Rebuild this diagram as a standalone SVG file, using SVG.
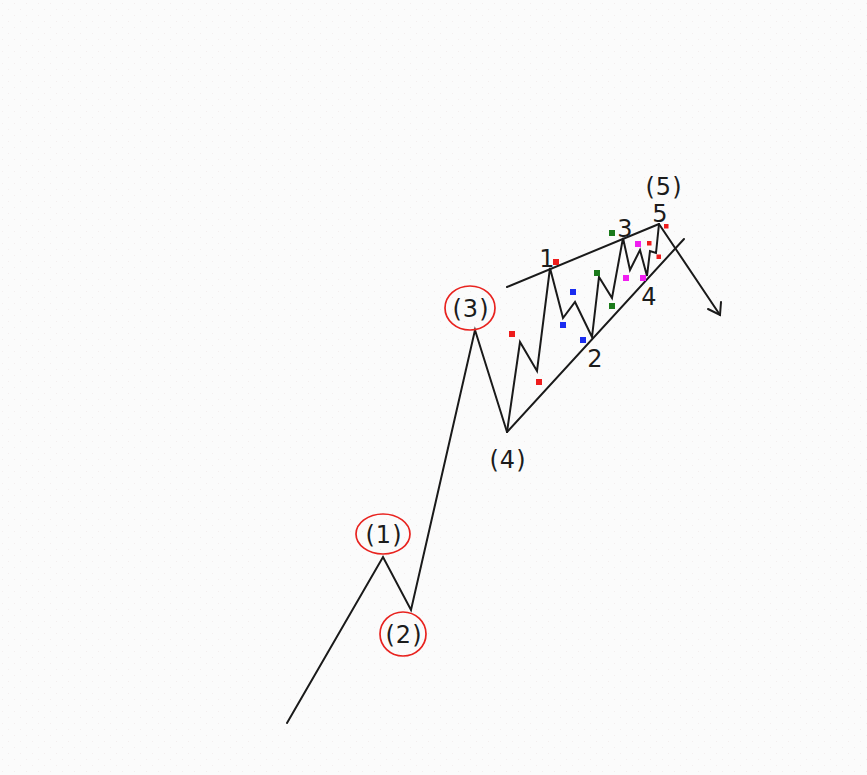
<svg xmlns="http://www.w3.org/2000/svg" width="867" height="775" viewBox="0 0 867 775">
  <style>
    .wave { fill: none; stroke: #1a1a1a; stroke-width: 2; stroke-linejoin: miter; stroke-linecap: round; }
    .ring { fill: none; stroke: #e8231f; stroke-width: 1.7; }
    .lbl { font-family: "DejaVu Sans", "Liberation Sans", sans-serif; font-size: 24px; fill: #1c1c1c; text-anchor: middle; }
    .par { letter-spacing: 1px; }
    .r { fill: #ee1c1c; }
    .b { fill: #1a2cf0; }
    .g { fill: #1b7a1b; }
    .m { fill: #f01ef0; }
  </style>
  <defs>
    <pattern id="bgp" width="12" height="12" patternUnits="userSpaceOnUse">
      <rect width="12" height="12" fill="#fbfbfb"/>
      <rect x="2" y="3" width="1" height="1" fill="#f3eeee"/>
      <rect x="8" y="9" width="1" height="1" fill="#f3eeee"/>
    </pattern>
  </defs>
  <rect width="867" height="775" fill="url(#bgp)"/>

  <g id="connectors">
    <polyline class="wave" points="287,723 383,557 411,610 475,330 507,432"/>
    <polyline class="wave" points="507,432 520,342 537,371 550,268 563,318 575,302 592,337 599,277 612,298 623,238 630,270 640,250 647,276 650,251 656,253 659,224"/>
    <line class="wave" x1="507" y1="287" x2="659" y2="224"/>
    <line class="wave" x1="507" y1="432" x2="684" y2="239"/>
    <line class="wave" x1="659" y1="224" x2="720" y2="315"/>
    <polyline class="wave" points="708,309 720,315 721,302"/>
  </g>

  <g id="markers">
    <rect class="r" x="509" y="331" width="6" height="6"/>
    <rect class="r" x="536" y="379" width="6" height="6"/>
    <rect class="r" x="553" y="259" width="6" height="6"/>
    <rect class="b" x="570" y="289" width="6" height="6"/>
    <rect class="b" x="560" y="322" width="6" height="6"/>
    <rect class="b" x="580" y="337" width="6" height="6"/>
    <rect class="g" x="594" y="270" width="6" height="6"/>
    <rect class="g" x="609" y="303" width="6" height="6"/>
    <rect class="g" x="609" y="230" width="6" height="6"/>
    <rect class="m" x="635" y="241" width="6" height="6"/>
    <rect class="m" x="623" y="275" width="6" height="6"/>
    <rect class="m" x="640" y="275" width="6" height="6"/>
    <rect class="r" x="647" y="241" width="4.5" height="4.5"/>
    <rect class="r" x="656.5" y="254.5" width="4.5" height="4.5"/>
    <rect class="r" x="664" y="224" width="4.5" height="4.5"/>
  </g>

  <g id="n1"><ellipse class="ring" cx="383" cy="534" rx="27" ry="20"/><text class="lbl par" x="384" y="543">(1)</text></g>
  <g id="n2"><ellipse class="ring" cx="403" cy="634" rx="23" ry="22"/><text class="lbl par" x="404" y="643">(2)</text></g>
  <g id="n3"><ellipse class="ring" cx="470" cy="308" rx="25" ry="22"/><text class="lbl par" x="471" y="317">(3)</text></g>
  <g id="n4"><text class="lbl par" x="508" y="468">(4)</text></g>
  <g id="n5"><text class="lbl par" x="664" y="195">(5)</text></g>
  <g id="s1"><text class="lbl" x="547" y="267">1</text></g>
  <g id="s2"><text class="lbl" x="595" y="367">2</text></g>
  <g id="s3"><text class="lbl" x="625" y="237">3</text></g>
  <g id="s4"><text class="lbl" x="649" y="305">4</text></g>
  <g id="s5"><text class="lbl" x="660" y="222">5</text></g>
</svg>
